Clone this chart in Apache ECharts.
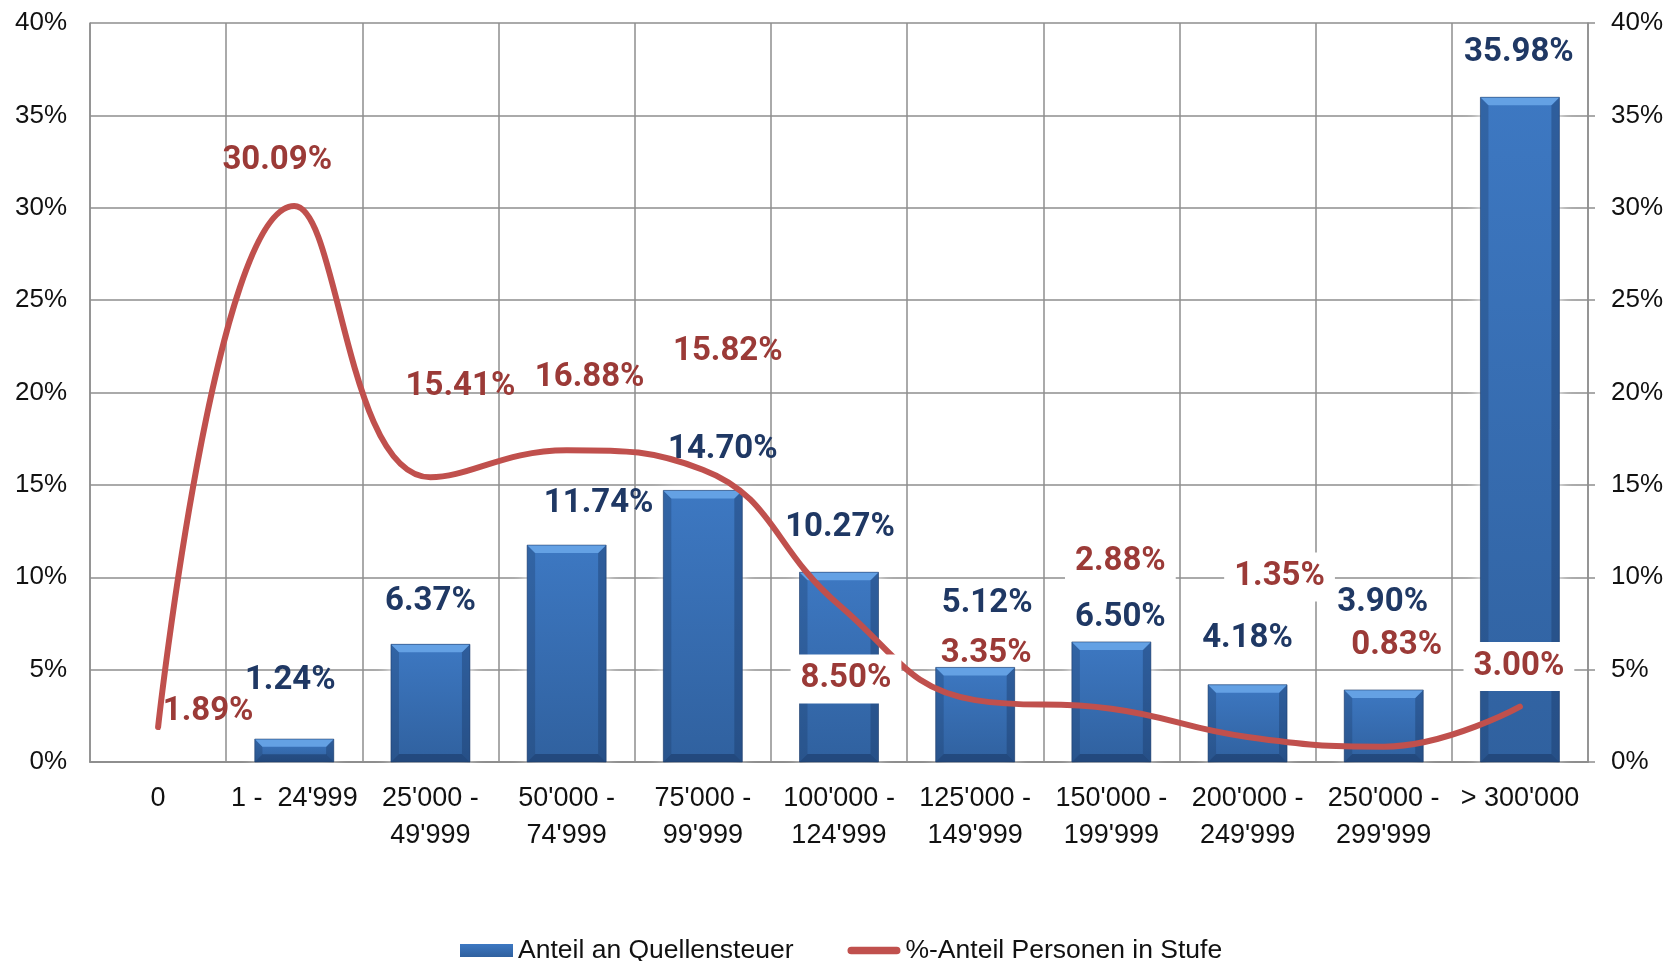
<!DOCTYPE html>
<html>
<head>
<meta charset="utf-8">
<script src="https://cdn.jsdelivr.net/npm/echarts@6/dist/echarts.min.js"></script>
<style>
  html, body { margin: 0; padding: 0; background: #fff; }
  #chart { width: 1668px; height: 961px; }
</style>
</head>
<body>
<div id="chart"></div>
<script>
// ---- data ----
const categories = ["0", "1 -  24'999", "25'000 -\n49'999", "50'000 -\n74'999", "75'000 -\n99'999",
  "100'000 -\n124'999", "125'000 -\n149'999", "150'000 -\n199'999", "200'000 -\n249'999",
  "250'000 -\n299'999", "> 300'000"];
const taxShare = [null, 1.24, 6.37, 11.74, 14.70, 10.27, 5.12, 6.50, 4.18, 3.90, 35.98];
const personShare = [1.89, 30.09, 15.41, 16.88, 15.82, 8.50, 3.35, 2.88, 1.35, 0.83, 3.00];
const yTicks = [0, 5, 10, 15, 20, 25, 30, 35, 40];
const seriesNames = ['Anteil an Quellensteuer', '%-Anteil Personen in Stufe'];

// ---- label placement (pixel offsets, kept apart from data) ----
const barLabelOffsets = [[0, 0], [-4, -58], [0, -43], [32, -41], [20, -41], [1, -45], [12, -64], [9, -24], [0, -46], [-1, -87], [-1, -45]];
const lineLabelOffsets = [[50, -15], [-17, -45], [30, -91], [23, -72], [25, -118], [7, 74], [11, -46], [9, -147], [32, -160], [13, -101], [-1, -40]];
const lineLabelBoxed = [false, false, false, false, false, true, false, true, true, false, true];

const BAR_W = 79;
const GRID_COLOR = '#8E8E8E';
const navy = '#1F3864';
const darkRed = '#9B3A37';
const pctFmt = v => v.toFixed(2) + '%';

const barData = taxShare.map((v, i) => v == null ? '-' : ({
  value: v,
  label: { offset: barLabelOffsets[i] }
}));
const bevelData = [];
taxShare.forEach((v, i) => { if (v != null) bevelData.push([i, v]); });
const lineData = personShare.map((v, i) => ({
  value: v,
  label: lineLabelBoxed[i]
    ? { offset: lineLabelOffsets[i], backgroundColor: '#fff', padding: [8, 10] }
    : { offset: lineLabelOffsets[i] }
}));

const chart = echarts.init(document.getElementById('chart'), null, { renderer: 'canvas' });

const yAxisCommon = {
  type: 'value', min: yTicks[0], max: yTicks[yTicks.length - 1], interval: yTicks[1] - yTicks[0],
  axisLabel: { formatter: '{value}%', fontFamily: 'Liberation Sans, Arial, sans-serif', fontSize: 26, color: '#111', margin: 23 },
  axisLine: { show: true, lineStyle: { color: GRID_COLOR, width: 1.5 } },
  splitLine: { show: true, lineStyle: { color: GRID_COLOR, width: 1.5 } }
};

// bevel overlay drawn on each bar through the axes' coordinate system
function renderBevel(params, api) {
  const cat = api.value(0);
  const v = api.value(1);
  const top = api.coord([cat, v]);
  const bot = api.coord([cat, 0]);
  const w = BAR_W, x0 = top[0] - w / 2, x1 = top[0] + w / 2;
  const h = bot[1] - top[1];
  const b = Math.min(8, h / 3);
  const t = top[1], bt = bot[1];
  return {
    type: 'group',
    children: [
      { type: 'polygon', shape: { points: [[x0, t], [x0 + b, t + b], [x0 + b, bt - b], [x0, bt]] },
        style: { fill: 'rgba(25,55,100,0.3)' } },
      { type: 'polygon', shape: { points: [[x1, t], [x1 - b, t + b], [x1 - b, bt - b], [x1, bt]] },
        style: { fill: 'rgba(25,55,100,0.4)' } },
      { type: 'polygon', shape: { points: [[x0, bt], [x0 + b, bt - b], [x1 - b, bt - b], [x1, bt]] },
        style: { fill: 'rgba(20,45,85,0.45)' } },
      { type: 'polygon', shape: { points: [[x0, t], [x1, t], [x1 - b, t + b], [x0 + b, t + b]] },
        style: { fill: '#64A1E4' } },
      { type: 'rect', shape: { x: x0, y: t, width: w, height: h },
        style: { fill: 'none', stroke: 'rgba(25,55,100,0.55)', lineWidth: 1 } }
    ]
  };
}

chart.setOption({
  animation: false,
  backgroundColor: '#fff',
  grid: { left: 90, right: 80, top: 23, bottom: 199, containLabel: false },
  legend: {
    left: 455, top: 932,
    itemWidth: 53, itemHeight: 13, itemGap: 54,
    textStyle: { fontFamily: 'Liberation Sans Narrow, Arial Narrow, Liberation Sans, sans-serif', fontSize: 26.5, color: '#111' },
    data: [
      { name: seriesNames[0], icon: 'rect' },
      { name: seriesNames[1], icon: 'path://M4,0 L52,0 A4,4 0 0 1 52,8 L4,8 A4,4 0 0 1 4,0 Z' }
    ]
  },
  xAxis: {
    type: 'category', data: categories, boundaryGap: true,
    axisLine: { show: true, lineStyle: { color: GRID_COLOR, width: 2 } },
    axisTick: { show: false },
    splitLine: { show: true, lineStyle: { color: GRID_COLOR, width: 1.5 } },
    axisLabel: {
      interval: 0, margin: 18, lineHeight: 37,
      fontFamily: 'Liberation Sans Narrow, Arial Narrow, Liberation Sans, sans-serif', fontSize: 27, color: '#111'
    }
  },
  yAxis: [
    Object.assign({}, yAxisCommon, { position: 'left', axisTick: { show: false } }),
    Object.assign({}, yAxisCommon, { position: 'right', splitLine: { show: false },
      axisTick: { show: true, length: 7, lineStyle: { color: GRID_COLOR, width: 1.5 } } })
  ],
  series: [
    {
      name: seriesNames[0], type: 'bar', data: barData, barWidth: BAR_W, yAxisIndex: 0,
      itemStyle: {
        color: {
          type: 'linear', x: 0, y: 0, x2: 0, y2: 1,
          colorStops: [{ offset: 0, color: '#3D78C2' }, { offset: 1, color: '#30619F' }]
        },
        shadowColor: 'rgba(255,255,255,1)', shadowBlur: 14
      },
      label: {
        show: true, position: 'top', distance: 0, align: 'center', verticalAlign: 'middle',
        formatter: p => pctFmt(p.value),
        fontFamily: 'Roboto, sans-serif', fontWeight: 'bold', fontSize: 33, color: navy
      }
    },
    {
      name: 'bevel', type: 'custom', silent: true, xAxisIndex: 0, yAxisIndex: 0,
      encode: { x: 0, y: 1 }, data: bevelData, z: 3,
      renderItem: renderBevel
    },
    {
      name: seriesNames[1], type: 'line', data: lineData, yAxisIndex: 0,
      smooth: 0.45, symbol: 'circle', symbolSize: 1, showSymbol: true,
      itemStyle: { color: '#C0504D' },
      lineStyle: { color: '#C0504D', width: 6, cap: 'round' },
      label: {
        show: true, position: 'inside', align: 'center', verticalAlign: 'middle',
        formatter: p => pctFmt(p.value),
        fontFamily: 'Roboto, sans-serif', fontWeight: 'bold', fontSize: 33, color: darkRed
      },
      z: 5
    }
  ]
});
</script>
</body>
</html>
